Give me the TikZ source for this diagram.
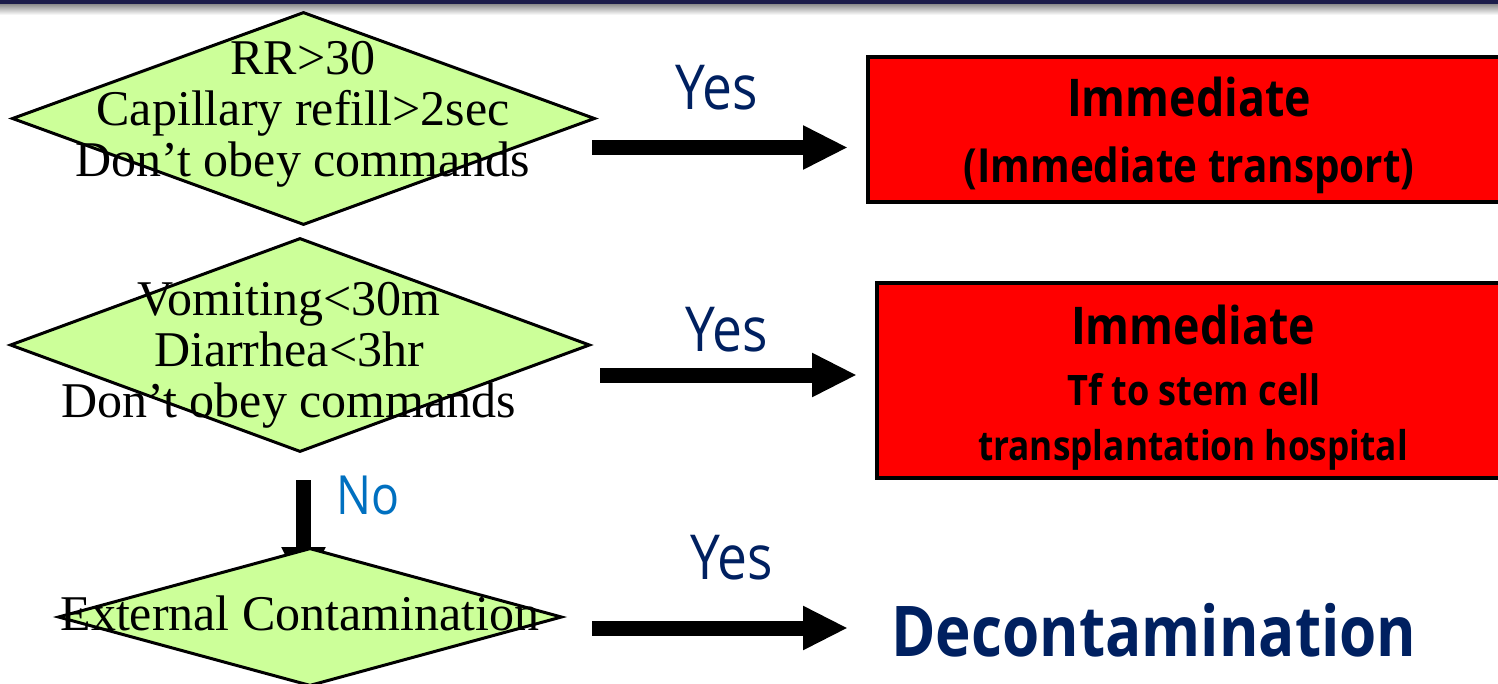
\documentclass[tikz,border=0pt]{standalone}
\usepackage{fontspec}
\usetikzlibrary{shapes.geometric,arrows.meta}
\newfontfamily\dfont{Liberation Serif}
\newfontfamily\sfont[FakeStretch=0.86]{Open Sans}
\definecolor{leaf}{HTML}{CCFF99}
\definecolor{navy}{HTML}{002060}
\definecolor{nocol}{HTML}{0070C0}
\definecolor{band}{HTML}{1C1C4A}
\tikzset{
  cond/.style={diamond, draw, line width=3pt, fill=leaf, inner sep=0pt},
  condtext/.style={align=center, font=\dfont\fontsize{50}{51}\selectfont},
  outbox/.style={draw, line width=4pt, fill=red, inner sep=0pt},
  boxtext/.style={font=\sfont\bfseries\fontsize{#1}{#1}\selectfont},
  fat/.style={line width=15pt, -{Triangle[length=45pt,width=41pt]}},
}
\begin{document}
\begin{tikzpicture}[x=1pt,y=-1pt]
\useasboundingbox (0,0) rectangle (1498,683);
\clip (0,0) rectangle (1498,683);
% top band
\fill[band] (0,0) rectangle (1498,4);
\shade[top color=black!45, bottom color=white] (0,4) rectangle (1498,15);
% arrows
\coordinate (y1s) at (592,147.5);
\coordinate (y1e) at (848,147.5);
\coordinate (y2s) at (600,375);
\coordinate (y2e) at (857,375);
\coordinate (y3s) at (592,628);
\coordinate (y3e) at (848,628);
\coordinate (n1s) at (303.5,480);
\coordinate (n1e) at (303.5,592);
\draw[fat](n1s) -- (n1e);
% conditions
\node[cond, minimum width=583, minimum height=213] (d1) at (303.5,118.5){};
\node[condtext] (d1t) at (303,114){RR>30\\Capillary refill>2sec\\Don’t obey commands};
\node[cond, minimum width=580, minimum height=214] (d2) at (300,345){};
\node[condtext] (d2t) at (289,355){Vomiting<30m\\Diarrhea<3hr\\Don’t obey commands};
\node[cond, minimum width=504, minimum height=138] (d3) at (310,617){};
\node[condtext] (d3t) at (300,613){External Contamination};
\draw[fat](y1s) -- (y1e);
\draw[fat](y2s) -- (y2e);
\draw[fat](y3s) -- (y3e);
% labels
\node[text=navy, font=\sfont\fontsize{62}{62}\selectfont] (yes1) at (717,88){Yes};
\node[text=navy, font=\sfont\fontsize{62}{62}\selectfont] (yes2) at (727,330){Yes};
\node[text=navy, font=\sfont\fontsize{62}{62}\selectfont] (yes3) at (732,558){Yes};
\node[text=nocol, font=\sfont\fontsize{54}{54}\selectfont] (no1) at (368,495){No};
% outcomes
\node[outbox, minimum width=662, minimum height=145] (b1) at (1199,129.5){};
\node[boxtext=52] (b1a) at (1189,97){Immediate};
\node[boxtext=47] (b1b) at (1189,170){(Immediate transport)};
\node[outbox, minimum width=653, minimum height=195] (b2) at (1203.5,380.5){};
\node[boxtext=52] (b2a) at (1193,325){Immediate};
\node[boxtext=42] (b2b) at (1194,390){Tf to stem cell};
\node[boxtext=41] (b2c) at (1193,450){transplantation hospital};
\node[text=navy, font=\sfont\bfseries\fontsize{70}{70}\selectfont] (dec) at (1154,630){Decontamination};
\end{tikzpicture}
\end{document}
